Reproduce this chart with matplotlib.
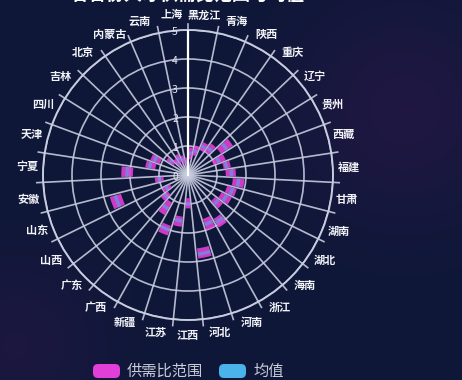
import numpy as np
import matplotlib
matplotlib.use("Agg")
import matplotlib.pyplot as plt
from matplotlib.patches import FancyBboxPatch
from matplotlib.transforms import IdentityTransform

plt.rcParams['font.family'] = ['Noto Sans CJK SC', 'DejaVu Sans']

# Provinces, clockwise from the top
provinces = ['黑龙江', '青海', '陕西', '重庆', '辽宁', '贵州', '西藏', '福建', '甘肃',
             '湖南', '湖北', '海南', '浙江', '河南', '河北', '江西', '江苏', '新疆',
             '广西', '广东', '山西', '山东', '安徽', '宁夏', '天津', '四川', '吉林',
             '北京', '内蒙古', '云南', '上海']
ratio_min = [0.55, 0.70, 0.95, 1.00, 1.35, 0.95, 1.25, 1.30, 1.55, 1.40, 1.30,
             1.20, 1.75, 1.60, 2.55, 0.80, 1.45, 1.85, 1.10, 0.90, 0.70, 2.40,
             0.85, 1.90, 1.15, 1.05, 0.60, 0.40, 0.50, 0.40, 0.30]
ratio_max = [0.95, 1.05, 1.25, 1.35, 1.85, 1.40, 1.50, 1.65, 1.95, 1.75, 1.70,
             1.55, 2.10, 2.00, 2.90, 1.15, 1.80, 2.20, 1.60, 1.20, 1.00, 2.80,
             1.15, 2.30, 1.50, 1.40, 0.90, 0.70, 0.80, 0.70, 0.60]
ratio_mean = [0.75, 0.85, 1.10, 1.15, 1.60, 1.15, 1.35, 1.50, 1.75, 1.60, 1.50,
              1.35, 1.90, 1.80, 2.75, 1.00, 1.60, 2.00, 1.35, 1.05, 0.85, 2.60,
              1.00, 2.10, 1.35, 1.25, 0.75, 0.55, 0.65, 0.55, 0.45]
radius_ticks = [0, 1, 2, 3, 4, 5]
legend_labels = ['供需比范围', '均值']
title_text = '各省份人才供需比范围与均值'

BG = '#0e1838'
GRID = '#c8cce0'
RANGE_COLOR = '#e23fd8'
MEAN_COLOR = '#4ab4ea'
LABEL_COLOR = '#f2f3f8'

W, H = 462, 380
fig = plt.figure(figsize=(W / 100, H / 100), dpi=100, facecolor=BG)

# faint purple haze in the background
bg = fig.add_axes([0, 0, 1, 1], zorder=-10)
bg.set_axis_off()
yy, xx = np.mgrid[0:H, 0:W]
glow = np.zeros((H, W))
for (gx, gy, gr, gs) in [(405, 110, 80, 0.45), (15, 345, 65, 0.35)]:
    glow += gs * np.exp(-((xx - gx) ** 2 + (yy - gy) ** 2) / (2 * gr ** 2))
glow = np.clip(glow, 0, 1)[..., None]
base = np.array([14, 24, 56]) / 255
tint = np.array([52, 22, 78]) / 255
img = base * (1 - glow) + tint * glow
bg.imshow(img, extent=[0, W, H, 0], aspect='auto')
bg.set_xlim(0, W)
bg.set_ylim(H, 0)

# polar plot, centre at (188, 175) px, outer radius 145 px
cx, cy, R = 188, 175, 145
ax = fig.add_axes([(cx - R) / W, 1 - (cy + R) / H, 2 * R / W, 2 * R / H],
                  projection='polar')
ax.set_facecolor('none')
ax.set_theta_zero_location('N')
ax.set_theta_direction(-1)
ax.set_ylim(0, 5)

n = len(provinces)
step = 2 * np.pi / n
centers = (np.arange(n) + 0.5) * step
bounds = np.arange(n) * step

ax.set_xticks(bounds)
ax.set_xticklabels([])
ax.set_yticks(radius_ticks[1:])
ax.set_yticklabels([])
ax.tick_params(length=0)
ax.grid(True, color=GRID, lw=1.2, alpha=0.9)
ax.spines['polar'].set_color(GRID)
ax.spines['polar'].set_linewidth(1.4)

# short outward ticks at each category boundary
for b in bounds:
    ax.plot([b, b], [5, 5.22], color=GRID, lw=1.2, alpha=0.9, clip_on=False)

# radius axis line and its labels
ax.plot([0, 0], [0, 5], color='#ffffff', lw=1.6, zorder=6)
for v in radius_ticks:
    ax.annotate(str(v), xy=(0, v), xytext=(-13, -2), textcoords='offset pixels',
                ha='center', va='center', fontsize=7.5, color='#e4e6f0', zorder=7,
                annotation_clip=False)

# category labels
for c, name in zip(centers, provinces):
    ax.text(c, 5.55, name, ha='center', va='center', fontsize=8,
            weight='bold', color=LABEL_COLOR, clip_on=False)

# min-max range bars
bar_w = step * 0.8
mn = np.array(ratio_min)
mx = np.array(ratio_max)
ax.bar(centers, mx - mn, bottom=mn, width=bar_w, color=RANGE_COLOR,
       alpha=0.9, zorder=4, linewidth=0)
# mean markers drawn as a thin band inside each range
band = 0.06
mean = np.array(ratio_mean)
ax.bar(centers, 2 * band, bottom=mean - band, width=bar_w, color=MEAN_COLOR,
       alpha=0.55, zorder=5, linewidth=0)

# title (sits at the very top edge)
fig.text(cx / W, 1 - 4.5 / H, title_text, ha='center', va='bottom', fontsize=13,
         weight='bold', color='#ffffff')

# legend
icon_w, icon_h = 27, 14
items = [(93, RANGE_COLOR, legend_labels[0]), (219, MEAN_COLOR, legend_labels[1])]
for x0, col, lab in items:
    yb = H - 378
    p = FancyBboxPatch((x0, yb), icon_w, icon_h,
                       boxstyle='round,pad=0,rounding_size=5',
                       transform=IdentityTransform(), facecolor=col,
                       edgecolor='none', figure=fig)
    fig.patches.append(p)
    fig.text((x0 + icon_w + 7) / W, (yb + icon_h / 2) / H, lab, ha='left',
             va='center', fontsize=11, color='#c9ccd8')

fig.savefig('out.png', dpi=100, facecolor=BG)
